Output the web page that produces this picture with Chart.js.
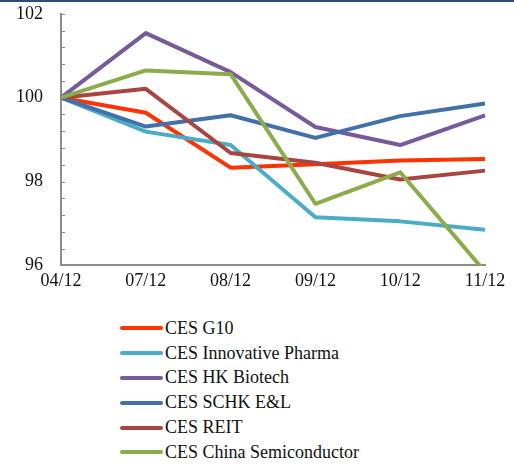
<!DOCTYPE html>
<html>
<head>
<meta charset="utf-8">
<script src="https://cdn.jsdelivr.net/npm/chart.js@4/dist/chart.umd.min.js"></script>
<style>
  body { margin:0; background:#fff; }
  #wrap { position:relative; width:514px; height:465px; overflow:hidden; background:#fff; }
  #topline { position:absolute; left:0; top:0; width:514px; height:2px; background:#2b4c7e; z-index:2; }
  #box { position:absolute; left:-2px; top:-15px; width:516px; height:312px; }
  #legend { position:absolute; left:120px; top:316px; font-family:"Liberation Serif","Times New Roman",serif; font-size:18px; color:#111; }
  .row { height:24.8px; display:flex; align-items:center; }
  .swatch { width:43px; height:4px; border-radius:2px; margin-right:2px; }
</style>
</head>
<body>
<div id="wrap">
  <div id="topline"></div>
  <div id="box"><canvas id="grafico"></canvas></div>
  <div id="legend"></div>
</div>
<script>
// datos
var fechas = ["04/12", "07/12", "08/12", "09/12", "10/12", "11/12"];
var g10     = [100, 99.64, 98.33, 98.41, 98.50, 98.54];
var pharma  = [100, 99.19, 98.87, 97.15, 97.05, 96.85];
var biotech = [100, 101.54, 100.61, 99.30, 98.87, 99.58];
var schk    = [100, 99.31, 99.58, 99.04, 99.56, 99.86];
var reit    = [100, 100.21, 98.68, 98.45, 98.05, 98.26];
var semi    = [100, 100.65, 100.56, 97.47, 98.22, 95.85];
var etiquetasY = [96, 98, 100, 102];

var nombres = ["CES G10", "CES Innovative Pharma", "CES HK Biotech", "CES SCHK E&L", "CES REIT", "CES China Semiconductor"];
var colores = ["#ff3300", "#4bacc6", "#765a9a", "#4170aa", "#a94541", "#8cab4b"];
var series = [g10, pharma, biotech, schk, reit, semi];

var datasets = [];
for (let i = 0; i < series.length; i++) {
    datasets.push({
        label: nombres[i],
        data: series[i],
        borderColor: colores[i],
        backgroundColor: colores[i],
        borderWidth: 4,
        pointRadius: 0,
        tension: 0,
        borderJoinStyle: "round",
        order: -i
    });
}

// marcas pequenas del eje y hacia dentro
var marcasY = {
    id: "marcasY",
    afterDatasetsDraw(chart) {
        const y = chart.scales.y;
        const ctx = chart.ctx;
        const x0 = chart.chartArea.left;
        ctx.save();
        ctx.strokeStyle = "#8c8c8c";
        ctx.lineWidth = 1;
        y.ticks.forEach((t) => {
            const py = Math.round(y.getPixelForValue(t.value)) + 0.5;
            ctx.beginPath();
            ctx.moveTo(x0, py);
            ctx.lineTo(x0 + 4, py);
            ctx.stroke();
        });
        ctx.restore();
    }
};

var fuente = { family: "'Liberation Serif', 'Times New Roman', serif", size: 18 };

var chart = new Chart(document.getElementById("grafico").getContext("2d"), {
    type: "line",
    data: { labels: fechas, datasets: datasets },
    options: {
        responsive: true,
        maintainAspectRatio: false,
        animation: false,
        layout: { padding: { left: 0, right: 29, top: 2, bottom: 0 } },
        plugins: { legend: { display: false }, tooltip: { enabled: false } },
        scales: {
            x: {
                offset: false,
                grid: { display: false, drawTicks: false },
                border: { color: "#8c8c8c", width: 2 },
                ticks: { color: "#111", font: fuente, padding: 5, maxRotation: 0, autoSkip: false }
            },
            y: {
                min: 96,
                max: 102,
                grid: { display: false, drawTicks: false },
                border: { color: "#8c8c8c", width: 2 },
                afterBuildTicks: function (eje) {
                    var lista = [];
                    for (let k = 0; k <= 15; k++) {
                        lista.push({ value: Math.round((96 + k * 0.4) * 10) / 10 });
                    }
                    eje.ticks = lista;
                },
                ticks: {
                    autoSkip: false,
                    color: "#111",
                    font: fuente,
                    padding: 18,
                    callback: function (v) {
                        return etiquetasY.indexOf(v) >= 0 ? String(v) : "";
                    }
                }
            }
        }
    },
    plugins: [marcasY]
});

// leyenda vertical en html
var leyenda = document.getElementById("legend");
chart.data.datasets.forEach(function (d) {
    var fila = document.createElement("div");
    fila.className = "row";
    var s = document.createElement("span");
    s.className = "swatch";
    s.style.background = d.borderColor;
    var t = document.createElement("span");
    t.textContent = d.label;
    fila.appendChild(s);
    fila.appendChild(t);
    leyenda.appendChild(fila);
});
</script>
</body>
</html>
